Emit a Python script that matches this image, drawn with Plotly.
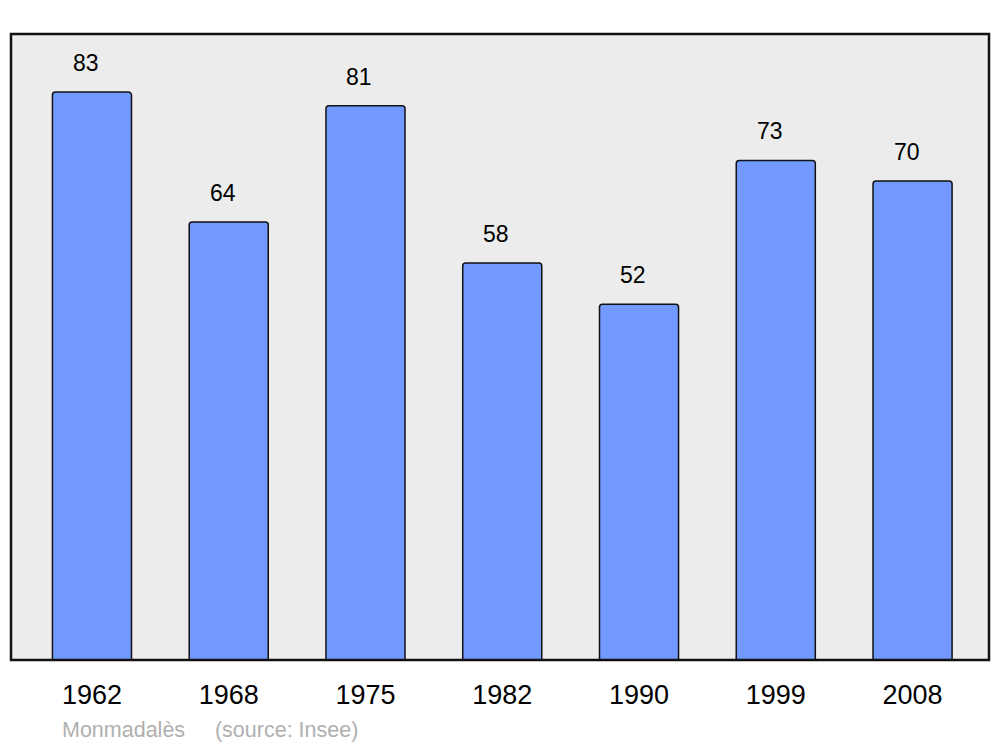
import plotly.graph_objects as go

years = ["1962", "1968", "1975", "1982", "1990", "1999", "2008"]
population = [83, 64, 81, 58, 52, 73, 70]
source_text = "Monmadalès    (source: Insee)"

idx = list(range(len(years)))

fig = go.Figure()
fig.add_trace(go.Bar(
    x=idx, y=population, width=0.578,
    marker=dict(color="#7299ff", line=dict(color="#111111", width=1.5), cornerradius=3),
    hoverinfo="skip",
))

for i, v in zip(idx, population):
    fig.add_annotation(x=i, y=v, text=str(v), showarrow=False, yanchor="bottom",
                       yshift=14, xshift=-6, font=dict(size=23, color="black",
                       family="Liberation Sans, Arial, sans-serif"))

fig.add_annotation(x=0.050, y=-0.112, xref="paper", yref="paper",
                   text=source_text.replace("    ", "&nbsp;&nbsp;&nbsp;&nbsp;&nbsp;"),
                   showarrow=False, xanchor="left", yanchor="middle",
                   font=dict(size=21.5, color="#b0b0b0", family="Liberation Sans, Arial, sans-serif"))

fig.add_shape(type="rect", xref="paper", yref="paper", x0=0, y0=0, x1=1, y1=1,
              line=dict(color="#111111", width=2.5), layer="above")

fig.update_layout(
    width=1000, height=747,
    margin=dict(l=11, r=11, t=34, b=87),
    paper_bgcolor="white", plot_bgcolor="#ececec",
    showlegend=False,
    font=dict(family="Liberation Sans, Arial, sans-serif", color="black"),
    xaxis=dict(range=[-0.592, 6.559], tickvals=idx, ticktext=years,
               showgrid=False, zeroline=False, ticks="outside", ticklen=11,
               tickcolor="rgba(0,0,0,0)", tickfont=dict(size=27), fixedrange=True),
    yaxis=dict(range=[0, 91.48], showgrid=False, zeroline=False, showticklabels=False,
               fixedrange=True),
)

fig.write_html("out.html", config={"displayModeBar": False},
               post_script="document.body.style.margin='0';document.body.style.overflow='hidden';")
